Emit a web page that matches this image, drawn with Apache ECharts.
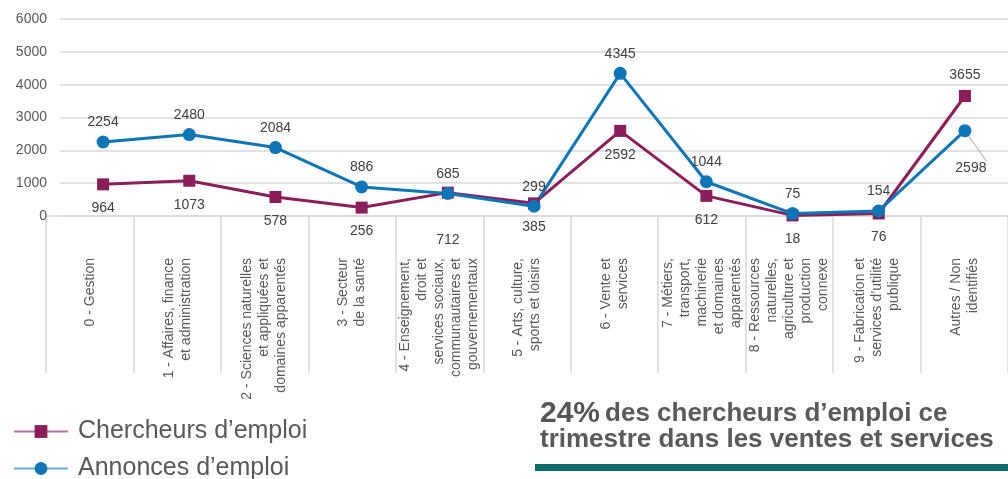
<!DOCTYPE html>
<html>
<head>
<meta charset="utf-8">
<script src="https://cdn.jsdelivr.net/npm/echarts@6.0.0/dist/echarts.min.js"></script>
<style>
html, body { margin: 0; padding: 0; background: #fff; }
#chart { width: 1008px; height: 479px; }
</style>
</head>
<body>
<div id="chart"></div>
<script>
var categories = [
	'0 - Gestion',
	'1 - Affaires, finance\net administration',
	'2 - Sciences naturelles\net appliquées et\ndomaines apparentés',
	'3 - Secteur\nde la santé',
	'4 - Enseignement,\ndroit et\nservices sociaux,\ncommunautaires et\ngouvernementaux',
	'5 - Arts, culture,\nsports et loisirs',
	'6 - Vente et\nservices',
	'7 - Métiers,\ntransport,\nmachinerie\net domaines\napparentés',
	'8 - Ressources\nnaturelles,\nagriculture et\nproduction\nconnexe',
	'9 - Fabrication et\nservices d’utilité\npublique',
	'Autres / Non\nidentifiés'
];
var chercheurs = [964, 1073, 578, 256, 712, 385, 2592, 612, 18, 76, 3655];
var annonces = [2254, 2480, 2084, 886, 685, 299, 4345, 1044, 75, 154, 2598];
var yMin = 0, yMax = 6000, yStep = 1000;

var purple = '#8c1d5b';
var blue = '#0e76b6';
var leader = { show: true, lineStyle: { color: '#a6a6a6', width: 1 } };

// label placement tweaks (chercheurs below, annonces above, except a few)
var chercheursData = chercheurs.map(function (v, i) {
	if (i === 4) return { value: v, label: { distance: 35 } };
	if (i === 10) return { value: v, label: { position: 'top', distance: 8 }, labelLine: leader };
	return v;
});
var annoncesData = annonces.map(function (v, i) {
	if (i === 10) return { value: v, label: { position: 'bottom', distance: 24, offset: [6, 0] }, labelLine: leader };
	return v;
});

var chart = echarts.init(document.getElementById('chart'));
chart.setOption({
	animation: false,
	textStyle: { fontFamily: 'Liberation Sans, Arial, sans-serif' },
	title: {
		left: 535,
		top: 396,
		text: '{a|24%} {b|des chercheurs d’emploi ce}\n{b|trimestre dans les ventes et services}',
		textStyle: {
			rich: {
				a: { fontSize: 30, fontWeight: 'bold', color: '#555555', lineHeight: 26, fontFamily: 'Liberation Sans' },
				b: { fontSize: 26, fontWeight: 'bold', color: '#5a5a5c', lineHeight: 26, fontFamily: 'Liberation Sans' }
			}
		}
	},
	graphic: [
		{ type: 'rect', left: 535, top: 464, shape: { width: 480, height: 7 }, style: { fill: '#0c6a6a' } }
	],
	legend: {
		orient: 'vertical',
		left: 13,
		top: 419,
		height: 80,
		padding: 0,
		itemWidth: 54,
		itemHeight: 16,
		itemGap: 12,
		lineStyle: { opacity: 0.6 },
		textStyle: { fontSize: 25, color: '#595959', padding: [0, 0, 0, 5] },
		data: ['Chercheurs d’emploi', 'Annonces d’emploi']
	},
	grid: [
		{ left: 60, right: -9, top: 19, bottom: 263 },
		{ left: 46, right: -13, top: 19, bottom: 263 }
	],
	xAxis: [
		{
			type: 'category',
			gridIndex: 0,
			data: categories,
			show: false
		},
		{
			type: 'category',
			gridIndex: 1,
			data: categories,
			axisLine: { show: true, lineStyle: { color: '#d9d9d9', width: 1.5 } },
			axisTick: { show: true, interval: 0, length: 157, lineStyle: { color: '#d9d9d9', width: 1.5 } },
			axisLabel: {
				interval: 0,
				rotate: 90,
				margin: 42,
				fontSize: 14,
				lineHeight: 17,
				color: '#595959',
				fontFamily: 'Liberation Sans'
			}
		}
	],
	yAxis: [
		{
			type: 'value',
			gridIndex: 0,
			min: yMin,
			max: yMax,
			interval: yStep,
			axisLine: { show: false },
			axisTick: { show: false },
			axisLabel: {
				margin: 13,
				fontSize: 14,
				color: '#595959',
				formatter: function (v) { return String(v); }
			},
			splitLine: { lineStyle: { color: '#d9d9d9', width: 1.5 } }
		},
		{
			type: 'value',
			gridIndex: 1,
			min: yMin,
			max: yMax,
			show: false,
			splitLine: { show: false }
		}
	],
	series: [
		{
			name: 'Chercheurs d’emploi',
			type: 'line',
			xAxisIndex: 0,
			yAxisIndex: 0,
			data: chercheursData,
			symbol: 'rect',
			symbolSize: 12,
			itemStyle: { color: purple },
			lineStyle: { color: purple, width: 3 },
			label: { show: true, position: 'bottom', distance: 11, fontSize: 14, color: '#404040' }
		},
		{
			name: 'Annonces d’emploi',
			type: 'line',
			xAxisIndex: 0,
			yAxisIndex: 0,
			data: annoncesData,
			symbol: 'circle',
			symbolSize: 13,
			itemStyle: { color: blue },
			lineStyle: { color: blue, width: 3 },
			label: { show: true, position: 'top', distance: 6, fontSize: 14, color: '#404040' }
		}
	]
});
</script>
</body>
</html>
